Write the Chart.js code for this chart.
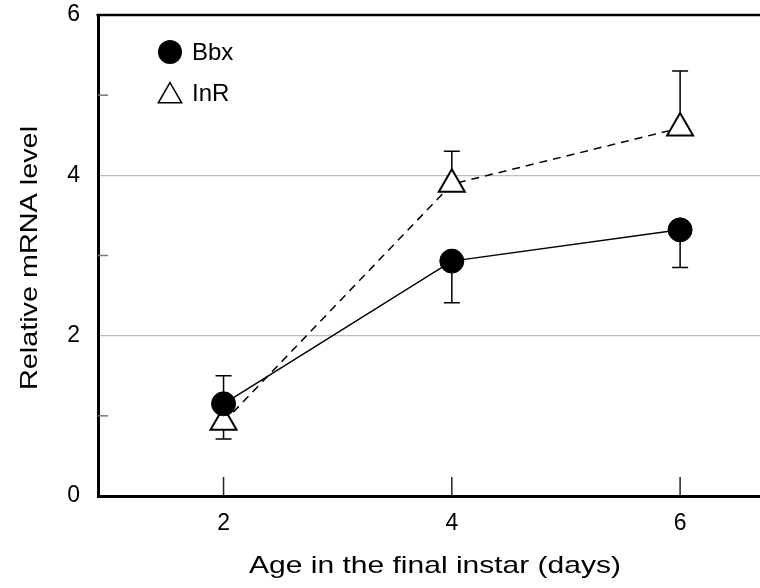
<!DOCTYPE html>
<html>
<head>
<meta charset="utf-8">
<script src="https://cdn.jsdelivr.net/npm/chart.js@4/dist/chart.umd.min.js"></script>
<style>
  html, body { margin: 0; padding: 0; background: #fff; }
  canvas { display: block; }
</style>
</head>
<body>
<canvas id="mrna" width="760" height="588"></canvas>
<script>
// days in the final instar
const days = [2, 4, 6];
const xTickValues = [2, 4, 6];
const yTickValues = [0, 1, 2, 3, 4, 5, 6];

const bbxLevel = [1.15, 2.93, 3.32];
const bbxErrHigh = [1.50, null, null];
const bbxErrLow = [null, 2.41, 2.85];

const inrLevel = [0.92, 3.89, 4.59];
const inrErrHigh = [null, 4.30, 5.30];
const inrErrLow = [0.71, null, null];

const FONT = '"Liberation Sans", Arial, sans-serif';

function points(ys) {
  return days.map((d, i) => ({ x: d, y: ys[i] }));
}

// error bars, drawn under the markers
const errorBars = {
  id: 'errorBars',
  beforeDatasetsDraw(chart) {
    const { ctx, scales: { x, y } } = chart;
    const sets = [
      [bbxLevel, bbxErrHigh, bbxErrLow],
      [inrLevel, inrErrHigh, inrErrLow]
    ];
    ctx.save();
    ctx.strokeStyle = '#000';
    ctx.lineWidth = 1.5;
    sets.forEach(([mean, hi, lo]) => {
      days.forEach((d, i) => {
        const px = x.getPixelForValue(d);
        const py = y.getPixelForValue(mean[i]);
        [hi[i], lo[i]].forEach(v => {
          if (v == null) return;
          const ey = y.getPixelForValue(v);
          ctx.beginPath();
          ctx.moveTo(px, py);
          ctx.lineTo(px, ey);
          ctx.moveTo(px - 8, ey);
          ctx.lineTo(px + 8, ey);
          ctx.stroke();
        });
      });
    });
    ctx.restore();
  }
};

function stretchedText(ctx, text, x, y, angle, sx) {
  ctx.save();
  ctx.translate(x, y);
  ctx.rotate(angle);
  ctx.scale(sx, 1);
  ctx.fillText(text, 0, 0);
  ctx.restore();
}

// inward ticks, top frame line, axis titles and legend
const decorations = {
  id: 'decorations',
  beforeDatasetsDraw(chart) {
    const { ctx, chartArea: area, scales: { x, y } } = chart;
    ctx.save();
    ctx.lineWidth = 1.5;
    ctx.strokeStyle = '#777';
    [1, 3, 5].forEach(v => {
      const py = y.getPixelForValue(v);
      ctx.beginPath();
      ctx.moveTo(area.left, py);
      ctx.lineTo(area.left + 10, py);
      ctx.stroke();
    });
    ctx.strokeStyle = '#222';
    xTickValues.forEach(v => {
      const px = x.getPixelForValue(v);
      ctx.beginPath();
      ctx.moveTo(px, area.bottom);
      ctx.lineTo(px, area.bottom - 19);
      ctx.stroke();
    });
    ctx.restore();
  },
  afterDraw(chart) {
    const { ctx, chartArea: area } = chart;
    ctx.save();
    ctx.strokeStyle = '#000';
    ctx.lineWidth = 2.5;
    ctx.beginPath();
    ctx.moveTo(area.left - 1.5, area.top);
    ctx.lineTo(area.right, area.top);
    ctx.stroke();

    ctx.fillStyle = '#000';
    ctx.font = '24px ' + FONT;
    ctx.textAlign = 'center';
    ctx.textBaseline = 'alphabetic';
    stretchedText(ctx, 'Age in the final instar (days)', 435, 573, 0, 1.25);
    stretchedText(ctx, 'Relative mRNA level', 37, 258, -Math.PI / 2, 1.2);
    ctx.restore();

    ctx.save();
    ctx.fillStyle = '#000';
    ctx.beginPath();
    ctx.arc(170, 52, 12, 0, Math.PI * 2);
    ctx.fill();
    const r = 13.5;
    const cy = 96;
    ctx.beginPath();
    ctx.moveTo(170, cy - r);
    ctx.lineTo(170 + r * Math.sin(2 * Math.PI / 3), cy + r / 2);
    ctx.lineTo(170 - r * Math.sin(2 * Math.PI / 3), cy + r / 2);
    ctx.closePath();
    ctx.fillStyle = '#fff';
    ctx.fill();
    ctx.lineWidth = 1.5;
    ctx.strokeStyle = '#000';
    ctx.stroke();
    ctx.fillStyle = '#000';
    ctx.font = '24px ' + FONT;
    ctx.textAlign = 'left';
    ctx.textBaseline = 'alphabetic';
    ctx.fillText('Bbx', 192, 60);
    ctx.fillText('InR', 192, 101);
    ctx.restore();
  }
};

new Chart(document.getElementById('mrna'), {
  type: 'line',
  data: {
    datasets: [
      {
        label: 'Bbx',
        data: points(bbxLevel),
        borderColor: '#000',
        borderWidth: 1.5,
        pointStyle: 'circle',
        pointRadius: 12,
        pointBackgroundColor: '#000',
        pointBorderColor: '#000',
        pointBorderWidth: 1
      },
      {
        label: 'InR',
        data: points(inrLevel),
        borderColor: '#000',
        borderWidth: 1.5,
        borderDash: [8, 6],
        pointStyle: 'triangle',
        pointRadius: 15,
        pointBackgroundColor: '#fff',
        pointBorderColor: '#000',
        pointBorderWidth: 2
      }
    ]
  },
  options: {
    responsive: false,
    animation: false,
    layout: { autoPadding: false, padding: { top: 15, right: 0, left: 0, bottom: 0 } },
    plugins: {
      legend: { display: false },
      tooltip: { enabled: false }
    },
    scales: {
      x: {
        type: 'linear',
        min: 0.9,
        max: 6.7,
        afterBuildTicks: s => { s.ticks = xTickValues.map(v => ({ value: v })); },
        afterFit: s => { s.height = 92; s.paddingLeft = 0; s.paddingRight = 0; },
        grid: { display: false, drawTicks: false },
        border: { color: '#000', width: 3 },
        ticks: {
          padding: 14,
          color: '#000',
          font: { family: FONT, size: 23 }
        }
      },
      y: {
        min: 0,
        max: 6,
        afterBuildTicks: s => { s.ticks = yTickValues.map(v => ({ value: v })); },
        afterFit: s => { s.width = 98; s.paddingTop = 0; s.paddingBottom = 0; },
        grid: {
          drawTicks: false,
          lineWidth: 1.2,
          color: c => (c.tick && (c.tick.value === 2 || c.tick.value === 4)) ? '#bdbdbd' : 'rgba(0,0,0,0)'
        },
        border: { color: '#000', width: 3 },
        ticks: {
          padding: 18,
          color: '#000',
          font: { family: FONT, size: 23 },
          callback: v => (v % 2 === 0 ? String(v) : '')
        }
      }
    }
  },
  plugins: [errorBars, decorations]
});
</script>
</body>
</html>
